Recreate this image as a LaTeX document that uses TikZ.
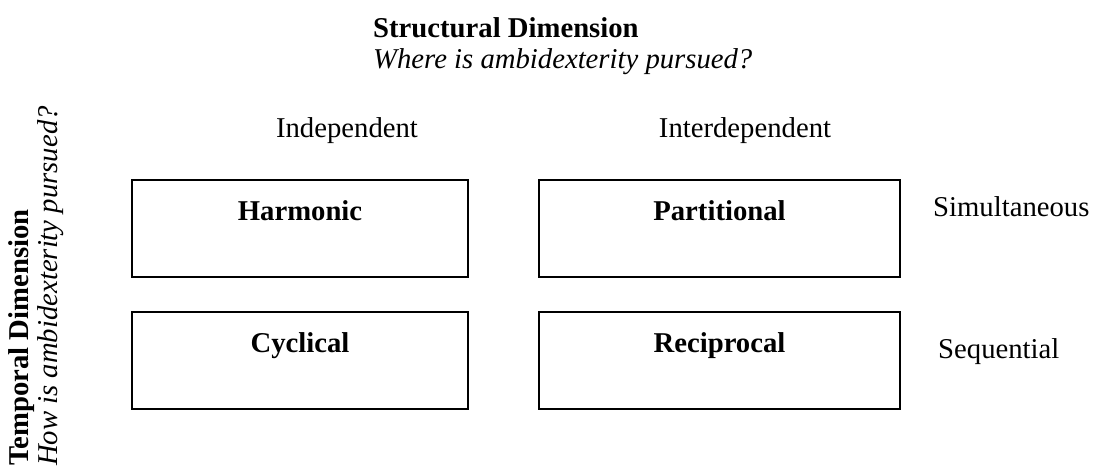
\documentclass[tikz,border=0pt]{standalone}
\usepackage{fontspec}
\setmainfont{Liberation Serif}
\begin{document}
\begin{tikzpicture}[x=1pt,y=-1pt,
  txt/.style={inner sep=0pt,font=\fontsize{28.7}{34}\selectfont},
  head/.style={txt,font=\fontsize{28.7}{34}\selectfont\bfseries},
  ask/.style={txt,font=\fontsize{28.7}{34}\selectfont\itshape},
  cell/.style={draw,line width=1.5pt,minimum width=336pt,minimum height=97pt,inner sep=0pt},
  cellr/.style={cell,minimum width=361pt}]
\useasboundingbox (0,0) rectangle (1099,466);

% structural dimension (top)
\node[head,anchor=base west] (struct) at (373,37) {Structural Dimension};
\node[ask,anchor=base west] (where) at (373,68) {Where is ambidexterity pursued?};
\node[txt,anchor=base] (indep) at (347,137) {Independent};
\node[txt,anchor=base] (interdep) at (745,137) {Interdependent};

% temporal dimension (left, rotated)
\node[head,anchor=base west,rotate=90] (temporal) at (28,466) {Temporal Dimension};
\node[ask,anchor=base west,rotate=90] (how) at (57,466) {How is ambidexterity pursued?};

% the four modes
\node[cell] (harm) at (300,228.5) {};
\node[cellr] (part) at (719.5,228.5) {};
\node[cell] (cyc) at (300,360.5) {};
\node[cellr] (recip) at (719.5,360.5) {};

\node[head,anchor=base] (harmt) at ([yshift=-41pt]harm.north) {Harmonic};
\node[head,anchor=base] (partt) at ([yshift=-41pt]part.north) {Partitional};
\node[head,anchor=base] (cyct) at ([yshift=-41pt]cyc.north) {Cyclical};
\node[head,anchor=base] (recipt) at ([yshift=-41pt]recip.north) {Reciprocal};

% row labels
\node[txt,anchor=base west] (simul) at (933,216) {Simultaneous};
\node[txt,anchor=base west] (seq) at (938,358) {Sequential};
\end{tikzpicture}
\end{document}
